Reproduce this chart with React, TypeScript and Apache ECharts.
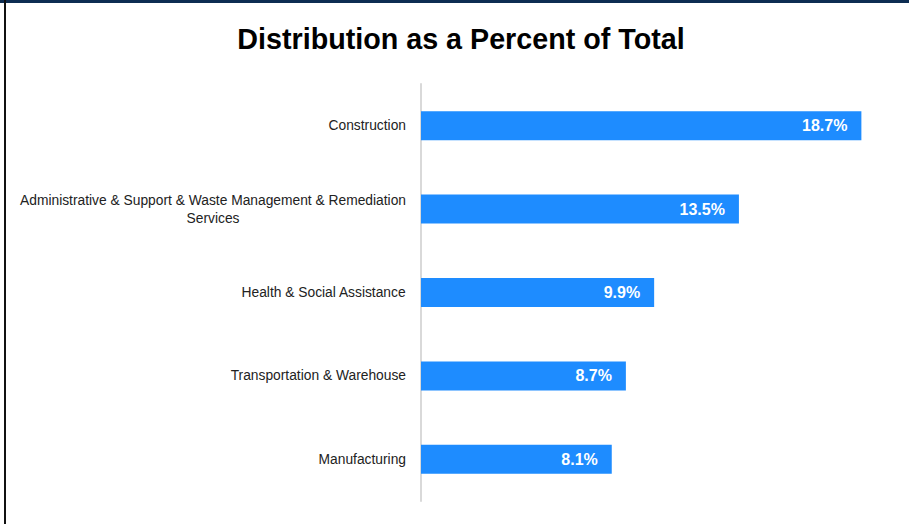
import React, { useEffect, useRef } from "react";
import * as echarts from "echarts";

const categories = [
  "Construction",
  "Administrative & Support & Waste Management & Remediation Services",
  "Health & Social Assistance",
  "Transportation & Warehouse",
  "Manufacturing",
];
const values = [18.7, 13.5, 9.9, 8.7, 8.1];
const titleText = "Distribution as a Percent of Total";

function wrap(label: string, maxChars: number): string[] {
  const words = label.split(" ");
  const lines: string[] = [];
  let cur = "";
  for (const w of words) {
    const next = cur ? cur + " " + w : w;
    if (next.length > maxChars && cur) {
      lines.push(cur);
      cur = w;
    } else {
      cur = next;
    }
  }
  if (cur) lines.push(cur);
  return lines;
}

export default function App() {
  const ref = useRef<HTMLDivElement>(null);
  useEffect(() => {
    document.body.style.margin = "0";
    const chart = echarts.init(ref.current!, undefined, { renderer: "svg" });
    chart.setOption({
      animation: false,
      backgroundColor: "#ffffff",
      title: {
        text: titleText,
        left: 456,
        top: 19,
        textAlign: "center",
        textStyle: {
          fontFamily: "Liberation Sans, Arial, sans-serif",
          fontWeight: "bold",
          fontSize: 28.7,
          color: "#000000",
        },
      },
      graphic: [
        {
          type: "rect",
          shape: { x: 0, y: 0, width: 909, height: 3 },
          style: { fill: "#0d2d52" },
          silent: true,
        },
        {
          type: "rect",
          shape: { x: 4, y: 0, width: 2, height: 524 },
          style: { fill: "#111111" },
          silent: true,
        },
      ],
      grid: { left: 421, right: 17, top: 84, bottom: 23, containLabel: false },
      xAxis: {
        type: "value",
        min: 0,
        max: 20,
        show: false,
      },
      yAxis: {
        type: "category",
        inverse: true,
        data: categories,
        axisLine: { show: true, lineStyle: { color: "#d9d9d9", width: 2 } },
        axisTick: { show: false },
        splitLine: { show: false },
        axisLabel: {
          margin: 15,
          fontFamily: "Liberation Sans, Arial, sans-serif",
          fontSize: 14,
          color: "#222222",
          lineHeight: 18,
          formatter: (v: string) =>
            wrap(v, 60)
              .map((l) => `{c|${l}}`)
              .join("\n"),
          rich: {
            c: {
              align: "center",
              fontFamily: "Liberation Sans, Arial, sans-serif",
              fontSize: 13.8,
              color: "#222222",
              lineHeight: 18,
            },
          },
        },
      },
      series: [
        {
          type: "bar",
          data: values,
          barWidth: 29,
          itemStyle: { color: "#1e8cff" },
          label: {
            show: true,
            position: "insideRight",
            distance: 14,
            formatter: (p: any) => p.value.toFixed(1) + "%",
            color: "#ffffff",
            fontFamily: "Liberation Sans, Arial, sans-serif",
            fontWeight: "bold",
            fontSize: 16,
          },
        },
      ],
    });
    return () => chart.dispose();
  }, []);
  return (
    <div
      ref={ref}
      style={{ position: "fixed", left: 0, top: 0, width: 909, height: 524 }}
    />
  );
}
